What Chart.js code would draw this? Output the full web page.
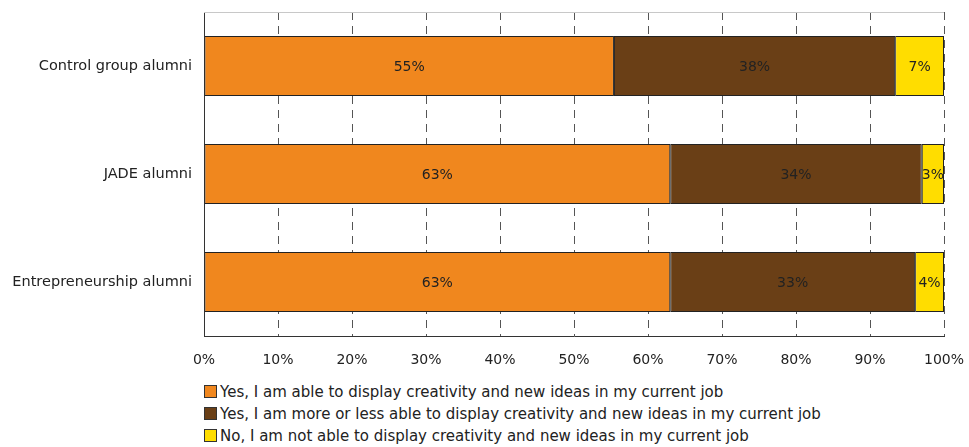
<!DOCTYPE html>
<html>
<head>
<meta charset="utf-8">
<script src="https://cdn.jsdelivr.net/npm/chart.js@4/dist/chart.umd.min.js"></script>
<style>
  html, body { margin: 0; padding: 0; background: #fff; }
  body { width: 969px; height: 447px; position: relative; overflow: hidden; font-family: "DejaVu Sans", Verdana, sans-serif; }
  #wrap { position: absolute; left: 0; top: 0; width: 969px; height: 376px; }
  #legend { position: absolute; left: 204px; top: 381px; font-size: 15px; color: #222; }
  #legend div { height: 22px; line-height: 22px; white-space: nowrap; }
  #legend span.box { display: inline-block; width: 11px; height: 11px; border: 1px solid #333; margin-right: 3px; vertical-align: -1px; }
</style>
</head>
<body>
<div id="wrap"><canvas id="barChart"></canvas></div>
<div id="legend"></div>
<script>
// Categories and series (percent of respondents)
const categories = ['Control group alumni', 'JADE alumni', 'Entrepreneurship alumni'];
const seriesNames = [
  'Yes, I am able to display creativity and new ideas in my current job',
  'Yes, I am more or less able to display creativity and new ideas in my current job',
  'No, I am not able to display creativity and new ideas in my current job'
];
const yesValues = [55.4, 63.0, 63.0];
const moreOrLessValues = [38.0, 34.0, 33.1];
const noValues = [6.6, 3.0, 3.9];
const xTicks = [0, 10, 20, 30, 40, 50, 60, 70, 80, 90, 100];

const colors = ['#F0871E', '#6A3F16', '#FFDD00'];
const fontFamily = '"DejaVu Sans", Verdana, sans-serif';

// draw value labels in the middle of each bar segment
const barLabels = {
  id: 'barLabels',
  afterDatasetsDraw(chart) {
    const ctx = chart.ctx;
    ctx.save();
    ctx.font = '14px ' + fontFamily;
    ctx.fillStyle = '#222';
    ctx.textAlign = 'center';
    ctx.textBaseline = 'middle';
    chart.data.datasets.forEach((ds, i) => {
      chart.getDatasetMeta(i).data.forEach((bar, j) => {
        const x = (bar.x + bar.base) / 2;
        ctx.fillText(Math.round(ds.data[j]) + '%', x, bar.y + 1);
      });
    });
    ctx.restore();
  }
};

// light frame line along the top of the plot area
const topBorder = {
  id: 'topBorder',
  beforeDatasetsDraw(chart) {
    const a = chart.chartArea;
    const ctx = chart.ctx;
    ctx.save();
    ctx.strokeStyle = '#c8c8c8';
    ctx.lineWidth = 1;
    ctx.beginPath();
    ctx.moveTo(a.left, a.top + 0.5);
    ctx.lineTo(a.right, a.top + 0.5);
    ctx.stroke();
    ctx.restore();
  }
};

const datasets = [yesValues, moreOrLessValues, noValues].map((values, i) => ({
  label: seriesNames[i],
  data: values,
  backgroundColor: colors[i],
  borderColor: '#222',
  borderWidth: 1,
  borderSkipped: false,
  barPercentage: 1,
  categoryPercentage: 0.556
}));

const ctx = document.getElementById('barChart').getContext('2d');
new Chart(ctx, {
  type: 'bar',
  data: { labels: categories, datasets: datasets },
  plugins: [barLabels, topBorder],
  options: {
    indexAxis: 'y',
    responsive: true,
    maintainAspectRatio: false,
    animation: false,
    layout: { padding: { top: 12, right: 0, left: 0, bottom: 0 } },
    scales: {
      x: {
        stacked: true,
        min: 0,
        max: 100,
        afterBuildTicks: (scale) => { scale.ticks = xTicks.map(v => ({ value: v })); },
        afterFit: (scale) => {
          scale.height = 40;
          scale.paddingRight = 25;
          scale.paddingLeft = 0;
        },
        grid: {
          color: '#555',
          lineWidth: 1,
          drawTicks: false
        },
        border: { display: true, color: '#333', dash: [8, 6] },
        ticks: {
          padding: 16,
          color: '#222',
          font: { family: fontFamily, size: 14 },
          callback: (v) => v + '%'
        }
      },
      y: {
        stacked: true,
        afterFit: (scale) => {
          scale.width = 204;
          scale.paddingTop = 0;
          scale.paddingBottom = 0;
        },
        grid: { display: false, drawTicks: false },
        border: { display: true, color: '#333' },
        ticks: {
          padding: 12,
          color: '#222',
          font: { family: fontFamily, size: 14.5 }
        }
      }
    },
    plugins: {
      legend: { display: false },
      tooltip: { enabled: false }
    }
  }
});

// legend as a vertical list under the chart
const legend = document.getElementById('legend');
seriesNames.forEach((name, i) => {
  const row = document.createElement('div');
  const box = document.createElement('span');
  box.className = 'box';
  box.style.background = colors[i];
  row.appendChild(box);
  row.appendChild(document.createTextNode(name));
  legend.appendChild(row);
});
</script>
</body>
</html>
